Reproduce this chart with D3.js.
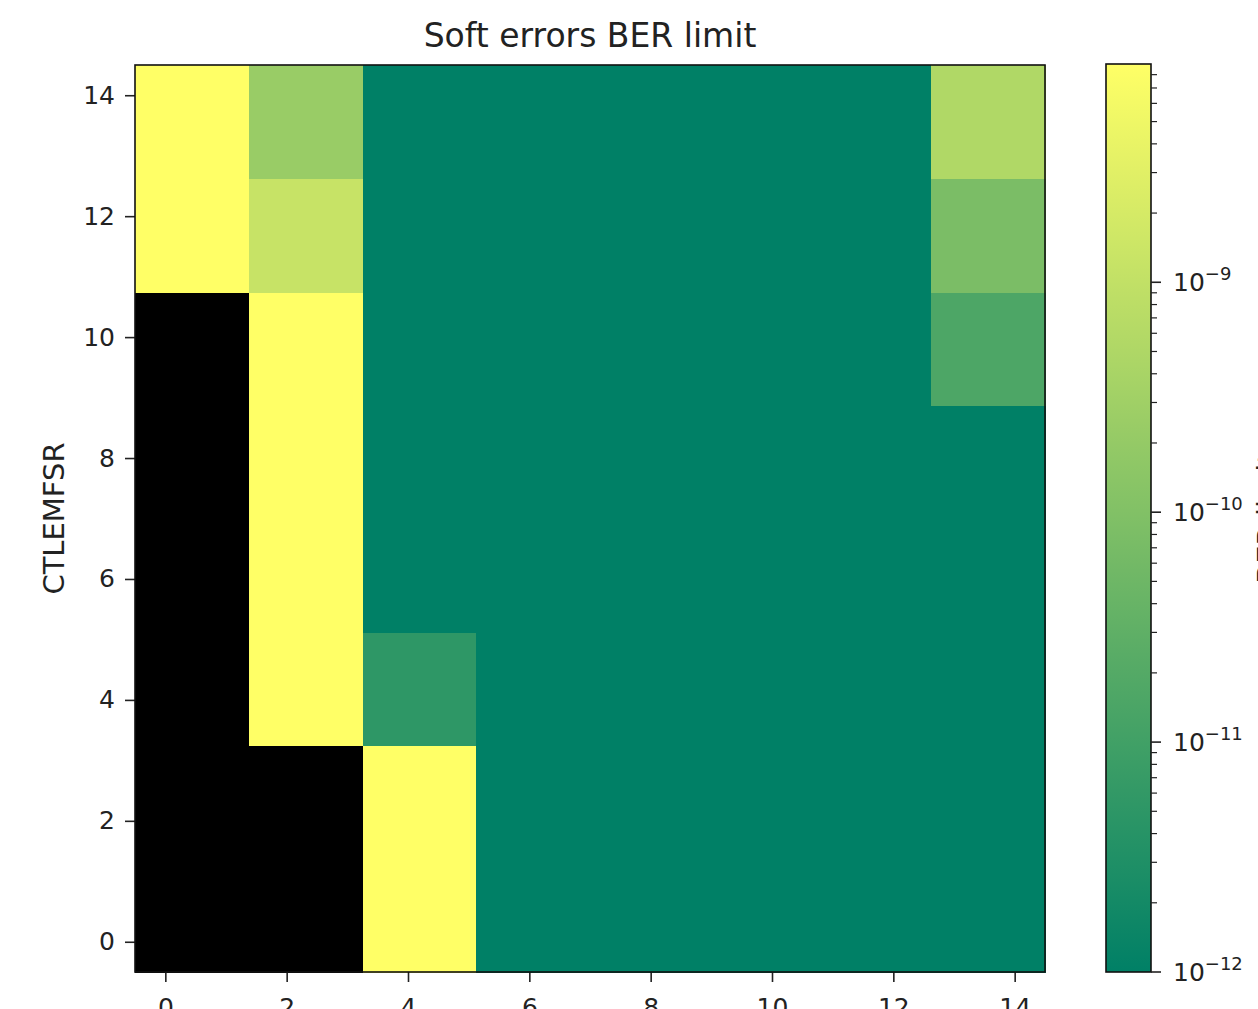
<!DOCTYPE html>
<html>
<head>
<meta charset="utf-8">
<script src="https://cdn.jsdelivr.net/npm/d3@7"></script>
<style>
	body { margin: 0; background: #fff; }
	text { font-family: "DejaVu Sans", sans-serif; fill: #222; }
</style>
</head>
<body>
<svg id="chart" width="1258" height="1009"></svg>
<script>
// BER per cell, rows listed bottom (row0) to top (row7); null = no data (drawn black)
const row0 = [null, null, 8.9e-9, 1e-12, 1e-12, 1e-12, 1e-12, 1e-12];
const row1 = [null, null, 8.9e-9, 1e-12, 1e-12, 1e-12, 1e-12, 1e-12];
const row2 = [null, 8.9e-9, 5.1e-12, 1e-12, 1e-12, 1e-12, 1e-12, 1e-12];
const row3 = [null, 8.9e-9, 1e-12, 1e-12, 1e-12, 1e-12, 1e-12, 1e-12];
const row4 = [null, 8.9e-9, 1e-12, 1e-12, 1e-12, 1e-12, 1e-12, 1e-12];
const row5 = [null, 8.9e-9, 1e-12, 1e-12, 1e-12, 1e-12, 1e-12, 1.55e-11];
const row6 = [8.9e-9, 1.2e-9, 1e-12, 1e-12, 1e-12, 1e-12, 1e-12, 8e-11];
const row7 = [8.9e-9, 2.36e-10, 1e-12, 1e-12, 1e-12, 1e-12, 1e-12, 5.4e-10];
const rows = [row0, row1, row2, row3, row4, row5, row6, row7];

const xTicks = [0, 2, 4, 6, 8, 10, 12, 14];
const yTicks = [0, 2, 4, 6, 8, 10, 12, 14];
const extent = [-0.5, 14.5];
const cbarMin = 1e-12;
const cbarMax = 8.9e-9;
const cbarMajor = [1e-12, 1e-11, 1e-10, 1e-9];

const svg = d3.select("#chart");
const plot = { left: 135, right: 1045, top: 65, bottom: 972 };
const cbar = { left: 1106, right: 1151, top: 64, bottom: 972 };

const x = d3.scaleLinear().domain(extent).range([plot.left, plot.right]);
const y = d3.scaleLinear().domain(extent).range([plot.bottom, plot.top]);

// summer colormap on a log norm
const summer = d3.interpolateRgb("rgb(0,128,102)", "rgb(255,255,102)");
const norm = d3.scaleLog().domain([cbarMin, cbarMax]).range([0, 1]).clamp(true);
const colour = v => v == null ? "#000" : summer(norm(v));

const nCols = row0.length;
const nRows = rows.length;
const cw = (extent[1] - extent[0]) / nCols;
const ch = (extent[1] - extent[0]) / nRows;

const cells = [];
rows.forEach((r, j) => r.forEach((v, i) => cells.push({ i: i, j: j, v: v })));

svg.append("g")
	.attr("shape-rendering", "crispEdges")
	.selectAll("rect")
	.data(cells)
	.enter()
	.append("rect")
	.attr("x", d => x(extent[0] + d.i * cw))
	.attr("y", d => y(extent[0] + (d.j + 1) * ch))
	.attr("width", d => x(extent[0] + (d.i + 1) * cw) - x(extent[0] + d.i * cw) + 1)
	.attr("height", d => y(extent[0] + d.j * ch) - y(extent[0] + (d.j + 1) * ch) + 1)
	.attr("fill", d => colour(d.v));

// axes
const xAxis = svg.append("g")
	.attr("transform", "translate(0," + plot.bottom + ")")
	.call(d3.axisBottom(x).tickValues(xTicks).tickSize(10).tickPadding(16));
const yAxis = svg.append("g")
	.attr("transform", "translate(" + plot.left + ",0)")
	.call(d3.axisLeft(y).tickValues(yTicks).tickSize(10).tickPadding(10));
[xAxis, yAxis].forEach(a => {
	a.select(".domain").remove();
	a.selectAll("line").attr("stroke", "#222").attr("stroke-width", 1.6);
	a.selectAll("text").attr("font-size", 25).attr("font-family", "DejaVu Sans").attr("fill", "#222");
});
xAxis.selectAll("text").attr("dy", "0.71em");

svg.append("rect")
	.attr("x", plot.left).attr("y", plot.top)
	.attr("width", plot.right - plot.left).attr("height", plot.bottom - plot.top)
	.attr("fill", "none").attr("stroke", "#111").attr("stroke-width", 1.6);

svg.append("text")
	.attr("x", (plot.left + plot.right) / 2)
	.attr("y", 47)
	.attr("text-anchor", "middle")
	.attr("font-size", 33)
	.text("Soft errors BER limit");

svg.append("text")
	.attr("transform", "translate(64," + (plot.top + plot.bottom) / 2 + ") rotate(-90)")
	.attr("text-anchor", "middle")
	.attr("font-size", 29)
	.text("CTLEMFSR");

// colorbar
const grad = svg.append("defs").append("linearGradient")
	.attr("id", "cbgrad")
	.attr("x1", 0).attr("y1", 1).attr("x2", 0).attr("y2", 0);
d3.range(0, 1.0001, 0.05).forEach(t => {
	grad.append("stop").attr("offset", t).attr("stop-color", summer(t));
});
svg.append("rect")
	.attr("x", cbar.left).attr("y", cbar.top)
	.attr("width", cbar.right - cbar.left).attr("height", cbar.bottom - cbar.top)
	.attr("fill", "url(#cbgrad)")
	.attr("stroke", "#111").attr("stroke-width", 1.6);

const cy = d3.scaleLog().domain([cbarMin, cbarMax]).range([cbar.bottom, cbar.top]);
const minor = [];
cbarMajor.forEach(m => {
	for (let k = 2; k <= 9; k++) {
		if (m * k <= cbarMax) minor.push(m * k);
	}
});

const cb = svg.append("g");
cb.selectAll(".minor")
	.data(minor)
	.enter()
	.append("line")
	.attr("x1", cbar.right).attr("x2", cbar.right + 6)
	.attr("y1", d => cy(d)).attr("y2", d => cy(d))
	.attr("stroke", "#222").attr("stroke-width", 1.2);
cb.selectAll(".major")
	.data(cbarMajor)
	.enter()
	.append("line")
	.attr("x1", cbar.right).attr("x2", cbar.right + 10)
	.attr("y1", d => cy(d)).attr("y2", d => cy(d))
	.attr("stroke", "#222").attr("stroke-width", 1.6);
const lbl = cb.selectAll(".lbl")
	.data(cbarMajor)
	.enter()
	.append("text")
	.attr("x", cbar.right + 22)
	.attr("y", d => cy(d) + 9)
	.attr("font-size", 25);
lbl.append("tspan").text("10");
lbl.append("tspan")
	.attr("dy", -11)
	.attr("font-size", 18)
	.text(d => "\u2212" + Math.round(-Math.log10(d)));

svg.append("text")
	.attr("transform", "translate(1278," + (cbar.top + cbar.bottom) / 2 + ") rotate(-90)")
	.attr("text-anchor", "middle")
	.attr("font-size", 29)
	.text("BER limit");
</script>
</body>
</html>
